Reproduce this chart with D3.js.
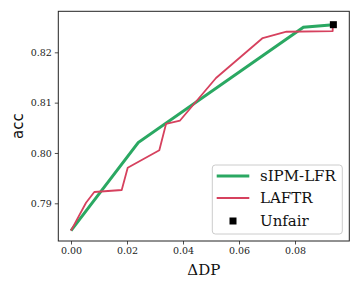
<!DOCTYPE html>
<html><head><meta charset="utf-8">
<script src="https://cdn.jsdelivr.net/npm/d3@7"></script>
<style>body{margin:0;background:#fff}svg{display:block}</style>
</head><body>
<script>
const sipmX = [0.0, 0.0240, 0.0830, 0.0937];
const sipmY = [0.78456, 0.80208, 0.82497, 0.82549];
const laftrX = [0.0, 0.00536, 0.00832, 0.01811, 0.02025, 0.03154, 0.03393, 0.03893, 0.05179, 0.06846, 0.07696, 0.09346, 0.09346];
const laftrY = [0.78456, 0.79012, 0.79225, 0.79264, 0.79707, 0.80053, 0.80576, 0.80645, 0.81490, 0.82284, 0.82409, 0.82423, 0.82549];
const unfairX = [0.0937];
const unfairY = [0.82549];
const xTicks = [0.00, 0.02, 0.04, 0.06, 0.08];
const yTicks = [0.79, 0.80, 0.81, 0.82];
const legendLabels = ["sIPM-LFR", "LAFTR", "Unfair"];

const W = 360, H = 288;
const L = 58.3, R = 349.3, T = 11.3, B = 241;
const green = "#2aa862", red = "#d6415e";

const svg = d3.select("body").append("svg").attr("width", W).attr("height", H);
const x = d3.scaleLinear().domain([-0.00454, 0.09939]).range([L, R]);
const y = d3.scaleLinear().domain([0.78251, 0.82815]).range([B, T]);

const serif = "'DejaVu Serif', serif";

const gx = svg.append("g").attr("transform", `translate(0,${B})`)
  .call(d3.axisBottom(x).tickValues(xTicks).tickFormat(d3.format(".2f")).tickSize(3.5).tickPadding(3));
const gy = svg.append("g").attr("transform", `translate(${L},0)`)
  .call(d3.axisLeft(y).tickValues(yTicks).tickFormat(d3.format(".2f")).tickSize(3.5).tickPadding(3));
[gx, gy].forEach(g => {
  g.select(".domain").remove();
  g.selectAll("line").attr("stroke", "#222").attr("stroke-width", 0.8);
  g.selectAll("text").attr("font-family", serif).attr("font-size", 9.5).attr("fill", "#222");
});

svg.append("rect").attr("x", L).attr("y", T).attr("width", R - L).attr("height", B - T)
  .attr("fill", "none").attr("stroke", "#222").attr("stroke-width", 1);

const line = d3.line().x(d => x(d[0])).y(d => y(d[1]));
svg.append("path").datum(sipmX.map((v, i) => [v, sipmY[i]])).attr("d", line)
  .attr("fill", "none").attr("stroke", green).attr("stroke-width", 3);
svg.append("path").datum(laftrX.map((v, i) => [v, laftrY[i]])).attr("d", line)
  .attr("fill", "none").attr("stroke", red).attr("stroke-width", 1.8).attr("stroke-linejoin", "round");
svg.selectAll("rect.unfair").data(unfairX.map((v, i) => [v, unfairY[i]])).enter().append("rect")
  .attr("class", "unfair")
  .attr("x", d => x(d[0]) - 3.5).attr("y", d => y(d[1]) - 3.5).attr("width", 7).attr("height", 7).attr("fill", "#000");

svg.append("text").attr("x", (L + R) / 2).attr("y", 275).attr("text-anchor", "middle")
  .attr("font-family", serif).attr("font-size", 15).attr("fill", "#111").text("ΔDP");
svg.append("text").attr("transform", `translate(23,${(T + B) / 2}) rotate(-90)`).attr("text-anchor", "middle")
  .attr("font-family", "'DejaVu Sans', sans-serif").attr("font-size", 15).attr("fill", "#111").text("acc");

// legend
const lg = svg.append("g");
lg.append("rect").attr("x", 212.3).attr("y", 165).attr("width", 130).attr("height", 69).attr("rx", 3)
  .attr("fill", "#fff").attr("fill-opacity", 0.8).attr("stroke", "#ccc").attr("stroke-width", 1);
const rowsY = [176, 198, 221];
lg.append("line").attr("x1", 216.7).attr("x2", 249.3).attr("y1", rowsY[0]).attr("y2", rowsY[0]).attr("stroke", green).attr("stroke-width", 3);
lg.append("line").attr("x1", 216.7).attr("x2", 249.3).attr("y1", rowsY[1]).attr("y2", rowsY[1]).attr("stroke", red).attr("stroke-width", 1.8);
lg.append("rect").attr("x", 233 - 3.5).attr("y", rowsY[2] - 3.5).attr("width", 7).attr("height", 7).attr("fill", "#000");
legendLabels.forEach((t, i) => {
  lg.append("text").attr("x", 260).attr("y", rowsY[i]).attr("dy", "0.35em")
    .attr("font-family", serif).attr("font-size", 15).attr("fill", "#111").text(t);
});
</script>
</body></html>
